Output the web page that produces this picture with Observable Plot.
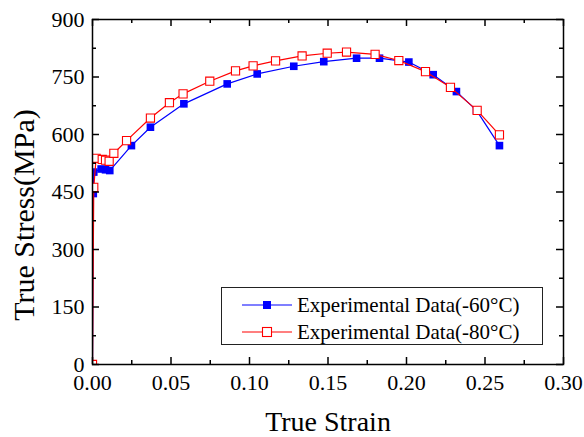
<!DOCTYPE html>
<html>
<head>
<meta charset="utf-8">
<script src="https://cdn.jsdelivr.net/npm/d3@7"></script>
<script src="https://cdn.jsdelivr.net/npm/@observablehq/plot@0.6"></script>
<style>
  html, body { margin: 0; padding: 0; background: #fff; }
  #wrap { position: relative; width: 584px; height: 437px; font-family: "Liberation Serif", "Times New Roman", serif; }
  #legend { position: absolute; left: 221px; top: 287px; width: 322px; height: 58px; border: 1.3px solid #222; box-sizing: border-box; background: #fff; }
  .row { position: absolute; left: 20px; height: 26px; display: flex; align-items: center; font-size: 21px; color: #000; white-space: nowrap; }
  .row svg { margin-right: 5px; }
</style>
</head>
<body>
<div id="wrap"></div>
<script>
// Data: -60°C (blue) and -80°C (red)
const blueStrain = [0, 0.0005, 0.0008, 0.0055, 0.0083, 0.011, 0.0248, 0.0369, 0.0582, 0.0858, 0.1049, 0.1282, 0.1473, 0.1682, 0.1828, 0.2015, 0.217, 0.2318, 0.2446, 0.2592];
const blueStress = [0, 446, 502, 510, 508, 506, 571, 619, 680, 732, 758, 778, 790, 799, 799, 789, 756, 712, 663, 571];
const redStrain = [0, 0.0008, 0.0023, 0.0062, 0.0083, 0.0106, 0.0136, 0.0217, 0.0369, 0.049, 0.0577, 0.0747, 0.0911, 0.1023, 0.1166, 0.1335, 0.1495, 0.1618, 0.18, 0.1951, 0.2121, 0.228, 0.245, 0.2592];
const redStress = [0, 462, 538, 535, 533, 530, 551, 584, 643, 683, 706, 739, 766, 779, 792, 805, 812, 815, 809, 793, 764, 723, 663, 599];

const xMajor = [0, 0.05, 0.10, 0.15, 0.20, 0.25, 0.30];
const xMinor = [0.025, 0.075, 0.125, 0.175, 0.225, 0.275];
const yMajor = [0, 150, 300, 450, 600, 750, 900];
const yMinor = [75, 225, 375, 525, 675, 825];

const seriesNames = ["Experimental Data(-60\u00B0C)", "Experimental Data(-80\u00B0C)"];
const colors = ["#0000ff", "#ff0000"];

const blue = blueStrain.map((x, i) => ({x, y: blueStress[i]}));
const red = redStrain.map((x, i) => ({x, y: redStress[i]}));

const H = 437, mT = 19, mB = 73;
const innerH = H - mT - mB;
const mL = 92, mR = 21;
const innerW = 584 - mL - mR;

const chart = Plot.plot({
  width: 584,
  height: H,
  marginLeft: mL,
  marginRight: mR,
  marginTop: mT,
  marginBottom: mB,
  style: {fontFamily: "'Liberation Serif', 'Times New Roman', serif", background: "#fff", color: "#000"},
  x: {domain: [0, 0.30]},
  y: {domain: [0, 900]},
  marks: [
    Plot.line(blue, {x: "x", y: "y", stroke: colors[0], strokeWidth: 1.2, clip: true}),
    Plot.dot(blue, {x: "x", y: "y", symbol: "square", r: 4.3, fill: colors[0], stroke: "none", clip: true}),
    Plot.line(red, {x: "x", y: "y", stroke: colors[1], strokeWidth: 1.2, clip: true}),
    Plot.dot(red, {x: "x", y: "y", symbol: "square", r: 4.6, fill: "#fff", stroke: colors[1], strokeWidth: 1.1, clip: true}),
    // inward ticks
    Plot.tickX(xMajor, {x: d => d, insetTop: innerH - 7, stroke: "#000", strokeWidth: 1.5}),
    Plot.tickX(xMajor, {x: d => d, insetBottom: innerH - 7, stroke: "#000", strokeWidth: 1.5}),
    Plot.tickX(xMinor, {x: d => d, insetTop: innerH - 4, stroke: "#000", strokeWidth: 1.5}),
    Plot.tickX(xMinor, {x: d => d, insetBottom: innerH - 4, stroke: "#000", strokeWidth: 1.5}),
    Plot.tickY(yMajor, {y: d => d, insetRight: innerW - 7, stroke: "#000", strokeWidth: 1.5}),
    Plot.tickY(yMajor, {y: d => d, insetLeft: innerW - 7, stroke: "#000", strokeWidth: 1.5}),
    Plot.tickY(yMinor, {y: d => d, insetRight: innerW - 4, stroke: "#000", strokeWidth: 1.5}),
    Plot.tickY(yMinor, {y: d => d, insetLeft: innerW - 4, stroke: "#000", strokeWidth: 1.5}),
    Plot.frame({stroke: "#000", strokeWidth: 1.5}),
    Plot.axisX(xMajor, {tickSize: 0, tickPadding: 10, fontSize: 22, tickFormat: d3.format(".2f"), label: null}),
    Plot.axisY(yMajor, {tickSize: 0, tickPadding: 8, fontSize: 22, tickFormat: d3.format("d"), label: null}),
    Plot.text(["True Strain"], {frameAnchor: "bottom", dy: 66, fontSize: 28, lineAnchor: "bottom", textAnchor: "middle"}),
    Plot.text(["True Stress(MPa)"], {frameAnchor: "left", dx: -68, dy: 23, rotate: -90, fontSize: 30, textAnchor: "middle", lineAnchor: "middle"})
  ]
});

const wrap = document.getElementById("wrap");
wrap.appendChild(chart);

const legend = document.createElement("div");
legend.id = "legend";
seriesNames.forEach((name, i) => {
  const row = document.createElement("div");
  row.className = "row";
  row.style.top = (i === 0 ? 4 : 31) + "px";
  const sym = i === 0
    ? `<rect x="21" y="3" width="8" height="8" fill="${colors[0]}"/>`
    : `<rect x="20.5" y="2.5" width="9" height="9" fill="#fff" stroke="${colors[1]}" stroke-width="1.1"/>`;
  row.innerHTML = `<svg width="50" height="14"><line x1="0" x2="50" y1="7" y2="7" stroke="${colors[i]}" stroke-width="1.2"/>${sym}</svg><span>${name}</span>`;
  legend.appendChild(row);
});
wrap.appendChild(legend);
</script>
</body>
</html>
